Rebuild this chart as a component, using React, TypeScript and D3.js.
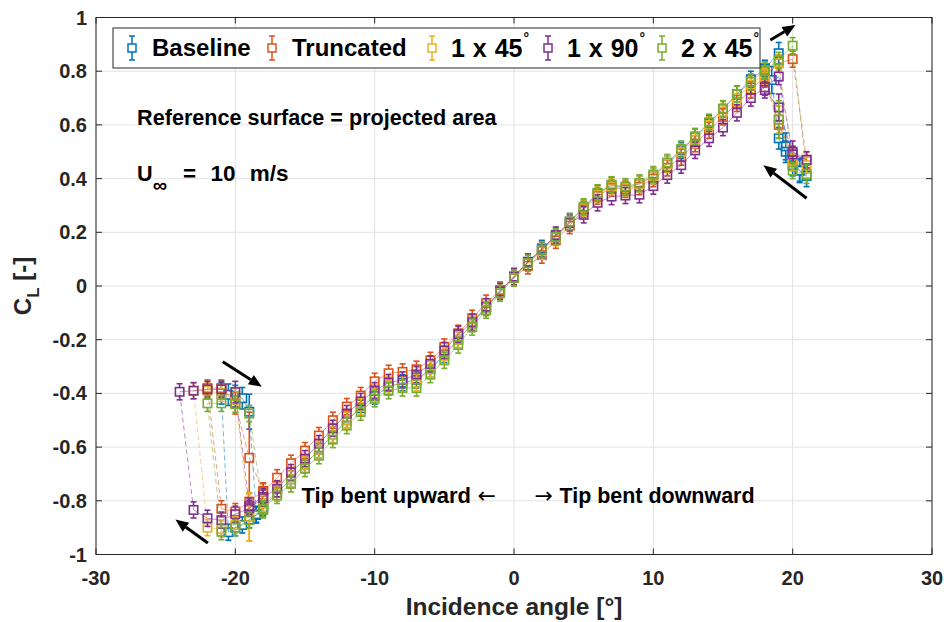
import React from 'react';
import * as d3 from 'd3';

type Pt = [number, number, number]; // incidence angle, CL, error half-width

const xTicks = [-30, -20, -10, 0, 10, 20, 30];
const yTicks = [-1, -0.8, -0.6, -0.4, -0.2, 0, 0.2, 0.4, 0.6, 0.8, 1];
const yTickLabels = ['-1', '-0.8', '-0.6', '-0.4', '-0.2', '0', '0.2', '0.4', '0.6', '0.8', '1'];

const seriesNames = ['Baseline', 'Truncated', '1 x 45', '1 x 90', '2 x 45'];
const seriesDegree = [false, false, true, true, true];
const seriesColors = ['#0072BD', '#D95319', '#EDB120', '#7E2F8E', '#77AC30'];

// measurement order: attached branch down to negative stall, stalled branch back, attached branch up to positive stall, stalled branch back
const baseline: Pt[] = [
  [-18, -0.825, 0.03], [-18.5, -0.853, 0.03], [-19, -0.87, 0.03], [-19.5, -0.89, 0.03], [-20, -0.9, 0.03], [-20.5, -0.917, 0.03],
  [-21, -0.4, 0.04], [-20.5, -0.405, 0.04], [-20, -0.41, 0.04], [-19.5, -0.418, 0.04], [-19, -0.468, 0.065],
  [-18.5, -0.85, 0.03], [-18, -0.825, 0.03], [-17, -0.77, 0.03], [-16, -0.72, 0.03], [-15, -0.665, 0.03], [-14, -0.61, 0.03],
  [-13, -0.555, 0.03], [-12, -0.5, 0.03], [-11, -0.455, 0.03], [-10, -0.41, 0.03], [-9, -0.375, 0.03], [-8, -0.36, 0.03],
  [-7, -0.35, 0.03], [-6, -0.31, 0.03], [-5, -0.255, 0.03], [-4, -0.2, 0.03], [-3, -0.14, 0.03], [-2, -0.08, 0.03],
  [-1, -0.02, 0.03], [0, 0.035, 0.03], [1, 0.09, 0.03], [2, 0.14, 0.03], [3, 0.185, 0.03], [4, 0.24, 0.03], [5, 0.29, 0.03],
  [6, 0.345, 0.03], [7, 0.375, 0.03], [8, 0.365, 0.03], [9, 0.38, 0.03], [10, 0.41, 0.03], [11, 0.455, 0.03], [12, 0.505, 0.03],
  [13, 0.555, 0.03], [14, 0.605, 0.03], [15, 0.66, 0.03], [16, 0.715, 0.03], [17, 0.77, 0.03], [18, 0.81, 0.03], [19, 0.867, 0.04],
  [19.5, 0.52, 0.05], [20, 0.47, 0.04], [20.5, 0.43, 0.045], [21, 0.41, 0.04],
  [20.5, 0.43, 0.04], [20, 0.45, 0.04], [19.5, 0.5, 0.04], [19, 0.55, 0.04], [18.5, 0.767, 0.05], [18, 0.81, 0.03],
];

const truncated: Pt[] = [
  [-18, -0.763, 0.03], [-19, -0.803, 0.03], [-20, -0.84, 0.03], [-21, -0.83, 0.03],
  [-22, -0.38, 0.03], [-21, -0.38, 0.03], [-20, -0.437, 0.04], [-19, -0.64, 0.17],
  [-18, -0.766, 0.03], [-17, -0.714, 0.03], [-16, -0.66, 0.03], [-15, -0.613, 0.03], [-14, -0.557, 0.03], [-13, -0.5, 0.03],
  [-12, -0.449, 0.03], [-11, -0.408, 0.03], [-10, -0.355, 0.03], [-9, -0.325, 0.03], [-8, -0.32, 0.03], [-7, -0.31, 0.03],
  [-6, -0.277, 0.03], [-5, -0.227, 0.03], [-4, -0.176, 0.03], [-3, -0.12, 0.03], [-2, -0.064, 0.03], [-1, -0.015, 0.03],
  [0, 0.03, 0.03], [1, 0.075, 0.03], [2, 0.115, 0.03], [3, 0.17, 0.03], [4, 0.225, 0.03], [5, 0.285, 0.03], [6, 0.335, 0.03],
  [7, 0.365, 0.03], [8, 0.36, 0.03], [9, 0.37, 0.03], [10, 0.4, 0.03], [11, 0.44, 0.03], [12, 0.48, 0.03], [13, 0.53, 0.03],
  [14, 0.58, 0.03], [15, 0.63, 0.03], [16, 0.68, 0.03], [17, 0.73, 0.03], [18, 0.78, 0.03], [19, 0.83, 0.03], [20, 0.845, 0.03],
  [21, 0.47, 0.03], [20, 0.49, 0.03], [19, 0.6, 0.05], [18, 0.77, 0.03],
];

const oneX45: Pt[] = [
  [-18, -0.81, 0.03], [-19, -0.86, 0.09], [-20, -0.89, 0.03], [-21, -0.905, 0.03], [-22, -0.9, 0.03],
  [-23, -0.39, 0.03], [-22, -0.39, 0.03], [-21, -0.4, 0.03], [-20, -0.41, 0.03],
  [-19, -0.86, 0.09], [-18, -0.81, 0.03], [-17, -0.77, 0.03], [-16, -0.72, 0.03], [-15, -0.665, 0.03], [-14, -0.61, 0.03],
  [-13, -0.555, 0.03], [-12, -0.5, 0.03], [-11, -0.45, 0.03], [-10, -0.4, 0.03], [-9, -0.37, 0.03], [-8, -0.365, 0.03],
  [-7, -0.36, 0.03], [-6, -0.31, 0.03], [-5, -0.26, 0.03], [-4, -0.2, 0.03], [-3, -0.14, 0.03], [-2, -0.08, 0.03],
  [-1, -0.02, 0.03], [0, 0.035, 0.03], [1, 0.085, 0.03], [2, 0.13, 0.03], [3, 0.18, 0.03], [4, 0.235, 0.03], [5, 0.29, 0.03],
  [6, 0.34, 0.03], [7, 0.37, 0.03], [8, 0.365, 0.03], [9, 0.38, 0.03], [10, 0.41, 0.03], [11, 0.455, 0.03], [12, 0.5, 0.03],
  [13, 0.545, 0.03], [14, 0.6, 0.03], [15, 0.65, 0.03], [16, 0.7, 0.03], [17, 0.75, 0.03], [18, 0.79, 0.03], [19, 0.83, 0.03],
  [20, 0.47, 0.04], [21, 0.45, 0.03], [20, 0.46, 0.03], [19, 0.62, 0.05], [18, 0.78, 0.03],
];

const oneX90: Pt[] = [
  [-18, -0.79, 0.03], [-19, -0.828, 0.03], [-20, -0.85, 0.03], [-21, -0.872, 0.03], [-22, -0.865, 0.03], [-23, -0.834, 0.03],
  [-24, -0.394, 0.03], [-23, -0.39, 0.03], [-22, -0.385, 0.03], [-21, -0.385, 0.03], [-20, -0.395, 0.04],
  [-19, -0.82, 0.03], [-18, -0.785, 0.03], [-17, -0.755, 0.03], [-16, -0.695, 0.03], [-15, -0.643, 0.03], [-14, -0.587, 0.03],
  [-13, -0.53, 0.03], [-12, -0.475, 0.03], [-11, -0.43, 0.03], [-10, -0.39, 0.03], [-9, -0.36, 0.03], [-8, -0.35, 0.03],
  [-7, -0.33, 0.03], [-6, -0.29, 0.03], [-5, -0.24, 0.03], [-4, -0.18, 0.03], [-3, -0.135, 0.03], [-2, -0.077, 0.03],
  [-1, -0.02, 0.03], [0, 0.035, 0.03], [1, 0.09, 0.03], [2, 0.135, 0.03], [3, 0.19, 0.03], [4, 0.235, 0.03], [5, 0.265, 0.03],
  [6, 0.31, 0.03], [7, 0.333, 0.03], [8, 0.337, 0.03], [9, 0.34, 0.03], [10, 0.372, 0.03], [11, 0.413, 0.03], [12, 0.45, 0.03],
  [13, 0.505, 0.03], [14, 0.55, 0.03], [15, 0.59, 0.03], [16, 0.645, 0.03], [17, 0.7, 0.03], [18, 0.74, 0.03], [19, 0.78, 0.03],
  [20, 0.5, 0.04], [21, 0.47, 0.03], [20, 0.49, 0.03], [19, 0.665, 0.05], [18, 0.73, 0.03],
];

const twoX45: Pt[] = [
  [-18, -0.834, 0.03], [-19, -0.872, 0.03], [-20, -0.9, 0.03], [-21, -0.915, 0.03],
  [-22, -0.437, 0.03], [-21, -0.437, 0.03], [-20, -0.44, 0.03], [-19, -0.475, 0.03],
  [-18, -0.83, 0.03], [-17, -0.78, 0.03], [-16, -0.737, 0.03], [-15, -0.68, 0.03], [-14, -0.632, 0.03], [-13, -0.572, 0.03],
  [-12, -0.52, 0.03], [-11, -0.47, 0.03], [-10, -0.42, 0.03], [-9, -0.39, 0.03], [-8, -0.38, 0.03], [-7, -0.38, 0.03],
  [-6, -0.33, 0.03], [-5, -0.277, 0.03], [-4, -0.22, 0.03], [-3, -0.153, 0.03], [-2, -0.09, 0.03], [-1, -0.027, 0.03],
  [0, 0.03, 0.03], [1, 0.085, 0.03], [2, 0.135, 0.03], [3, 0.183, 0.03], [4, 0.24, 0.03], [5, 0.295, 0.03], [6, 0.347, 0.03],
  [7, 0.377, 0.03], [8, 0.37, 0.03], [9, 0.384, 0.03], [10, 0.415, 0.03], [11, 0.46, 0.03], [12, 0.51, 0.03], [13, 0.557, 0.03],
  [14, 0.61, 0.03], [15, 0.66, 0.03], [16, 0.714, 0.03], [17, 0.76, 0.03], [18, 0.805, 0.03], [19, 0.84, 0.03], [20, 0.895, 0.03],
  [21, 0.417, 0.035], [20, 0.43, 0.03], [19, 0.62, 0.07], [18, 0.8, 0.03],
];

const allSeries = [baseline, truncated, oneX45, oneX90, twoX45];

// annotation arrows in data coordinates: [x0, y0, x1, y1]
const arrows: [number, number, number, number][] = [
  [18.4, 0.916, 20.2, 0.972],
  [21.0, 0.327, 17.9, 0.45],
  [-20.9, -0.282, -18.1, -0.375],
  [-21.97, -0.957, -24.3, -0.87],
];

const W = 944;
const H = 622;
const FONT = 'Liberation Sans, Arial, Helvetica, sans-serif';
const AX = '#262626';

export default function App() {
  const x = d3.scaleLinear().domain([-30, 30]).range([96, 932]);
  const y = d3.scaleLinear().domain([-1, 1]).range([554.5, 17.5]);
  const [x0, x1] = x.range();
  const [y0, y1] = y.range();
  const line = d3.line<Pt>().x((d) => x(d[0])).y((d) => y(d[1]));
  const half = 4.2;
  const cap = 3;

  const arrowHead = (a: [number, number, number, number], i: number) => {
    const px0 = x(a[0]), py0 = y(a[1]), px1 = x(a[2]), py1 = y(a[3]);
    const ang = Math.atan2(py1 - py0, px1 - px0);
    const L = 13, Wd = 5.5;
    const bx = px1 - L * Math.cos(ang), by = py1 - L * Math.sin(ang);
    const p1 = [bx + Wd * Math.sin(ang), by - Wd * Math.cos(ang)];
    const p2 = [bx - Wd * Math.sin(ang), by + Wd * Math.cos(ang)];
    return (
      <g key={i}>
        <line x1={px0} y1={py0} x2={bx} y2={by} stroke="#000" strokeWidth={3} />
        <polygon points={`${px1},${py1} ${p1[0]},${p1[1]} ${p2[0]},${p2[1]}`} fill="#000" />
      </g>
    );
  };

  const legendX = [132, 272, 432, 548, 662];

  const annX = x(-27.05);
  const tipX = x(-15.25);
  const tipY = y(-0.81);

  return (
    <svg width={W} height={H} style={{ position: 'absolute', left: 0, top: 0, background: '#fff' }} fontFamily={FONT}>
      <rect x={0} y={0} width={W} height={H} fill="#fff" />
      {/* grid */}
      {xTicks.map((t) => (
        <line key={'gx' + t} x1={x(t)} x2={x(t)} y1={y1} y2={y0} stroke="#e3e3e3" strokeWidth={1} />
      ))}
      {yTicks.map((t) => (
        <line key={'gy' + t} x1={x0} x2={x1} y1={y(t)} y2={y(t)} stroke="#e3e3e3" strokeWidth={1} />
      ))}
      {/* series */}
      {allSeries.map((s, si) => (
        <g key={'s' + si}>
          {s.slice(1).map((d, i) => {
            const p = s[i];
            const jump = Math.abs(d[1] - p[1]) > 0.12;
            return (
              <path key={i} d={line([p, d]) || ''} fill="none" stroke={seriesColors[si]} strokeWidth={0.9}
                strokeOpacity={0.6} strokeDasharray={jump ? '5 3' : undefined} />
            );
          })}
          {s.map((d, i) => {
            const cx = x(d[0]), cy = y(d[1]);
            const top = y(d[1] + d[2]), bot = y(d[1] - d[2]);
            return (
              <g key={'m' + i} stroke={seriesColors[si]} strokeWidth={1.6} fill="none">
                <line x1={cx} x2={cx} y1={top} y2={cy - half} />
                <line x1={cx} x2={cx} y1={cy + half} y2={bot} />
                <line x1={cx - cap} x2={cx + cap} y1={top} y2={top} />
                <line x1={cx - cap} x2={cx + cap} y1={bot} y2={bot} />
                <rect x={cx - half} y={cy - half} width={half * 2} height={half * 2} />
              </g>
            );
          })}
        </g>
      ))}
      {/* axes box */}
      <rect x={x0} y={y1} width={x1 - x0} height={y0 - y1} fill="none" stroke={AX} strokeWidth={1} />
      {xTicks.map((t) => (
        <g key={'tx' + t}>
          <line x1={x(t)} x2={x(t)} y1={y0} y2={y0 - 6} stroke={AX} />
          <line x1={x(t)} x2={x(t)} y1={y1} y2={y1 + 6} stroke={AX} />
          <text x={x(t)} y={y0 + 30} textAnchor="middle" fontSize={20} fontWeight="bold" fill={AX}>{t}</text>
        </g>
      ))}
      {yTicks.map((t, i) => (
        <g key={'ty' + t}>
          <line x1={x0} x2={x0 + 6} y1={y(t)} y2={y(t)} stroke={AX} />
          <line x1={x1} x2={x1 - 6} y1={y(t)} y2={y(t)} stroke={AX} />
          <text x={x0 - 9} y={y(t) + 7} textAnchor="end" fontSize={20} fontWeight="bold" fill={AX}>{yTickLabels[i]}</text>
        </g>
      ))}
      {/* axis labels */}
      <text x={(x0 + x1) / 2} y={615} textAnchor="middle" fontSize={24.5} fontWeight="bold" fill={AX}>Incidence angle [°]</text>
      <text transform={`translate(31, ${(y0 + y1) / 2}) rotate(-90)`} textAnchor="middle" fontSize={24} fontWeight="bold" fill={AX}>
        C<tspan fontSize={17} dy={8}>L</tspan><tspan dy={-8}> [-]</tspan>
      </text>
      {/* annotations */}
      <text x={annX} y={y(0.6)} fontSize={21.6} fontWeight="bold" fill="#000">Reference surface = projected area</text>
      <text x={annX} y={y(0.39)} fontSize={21.6} fontWeight="bold" fill="#000">
        U<tspan fontSize={20} dy={11}>∞</tspan>
      </text>
      <text x={annX + 46} y={y(0.39)} fontSize={22.5} fontWeight="bold" fill="#000" wordSpacing={8}>= 10 m/s</text>
      <text x={tipX} y={tipY} fontSize={22} fontWeight="bold" fill="#000">Tip bent upward</text>
      <text x={tipX + 176} y={tipY} fontSize={22} fill="#000" fontFamily="DejaVu Sans, sans-serif">←</text>
      <text x={tipX + 233} y={tipY} fontSize={22} fill="#000" fontFamily="DejaVu Sans, sans-serif">→</text>
      <text x={tipX + 258} y={tipY} fontSize={22} fontWeight="bold" fill="#000" textLength={195} lengthAdjust="spacingAndGlyphs">Tip bent downward</text>
      {arrows.map(arrowHead)}
      {/* legend */}
      <rect x={113} y={28} width={647} height={40} fill="#fff" stroke={AX} strokeWidth={1} />
      {seriesNames.map((n, i) => {
        const cx = legendX[i];
        const cy = 48;
        return (
          <g key={'lg' + i}>
            <g stroke={seriesColors[i]} strokeWidth={1.5} fill="none">
              <line x1={cx} x2={cx} y1={cy - 12} y2={cy - 4} />
              <line x1={cx} x2={cx} y1={cy + 4} y2={cy + 12} />
              <line x1={cx - 3} x2={cx + 3} y1={cy - 12} y2={cy - 12} />
              <line x1={cx - 3} x2={cx + 3} y1={cy + 12} y2={cy + 12} />
              <rect x={cx - 4} y={cy - 4} width={8} height={8} />
            </g>
            {seriesDegree[i] ? (
              <text x={cx + 19} y={cy + 9} fontSize={25} fontWeight="bold" fill="#000" wordSpacing={1}>
                {n}<tspan fontSize={14} dx={1} dy={-14}>°</tspan>
              </text>
            ) : (
              <text x={cx + 20} y={cy + 8} fontSize={24} fontWeight="bold" fill="#000">{n}</text>
            )}
          </g>
        );
      })}
    </svg>
  );
}
